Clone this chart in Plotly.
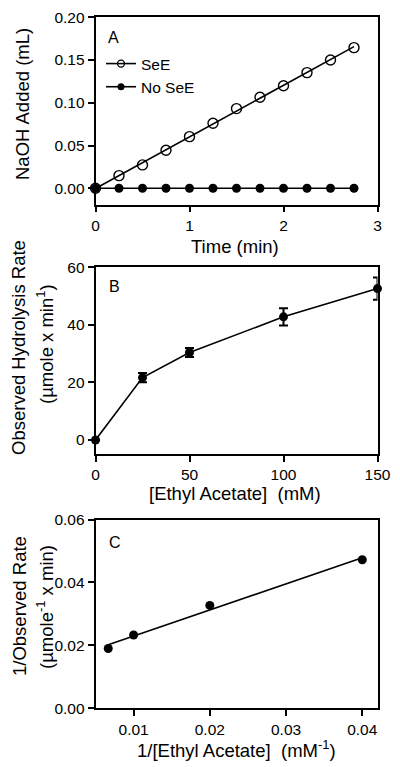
import numpy as np
import plotly.graph_objects as go

# ---------------- data ----------------
# Panel A
time_min = [0, 0.25, 0.5, 0.75, 1.0, 1.25, 1.5, 1.75, 2.0, 2.25, 2.5, 2.75]
naoh_see = [0.0, 0.0148, 0.0273, 0.0444, 0.0604, 0.0760, 0.0932, 0.1064, 0.1200, 0.1353, 0.1500, 0.1645]
naoh_no_see = [0.0] * 12
# Panel B
ethyl_acetate_mM = [0, 25, 50, 100, 150]
rate_obs = [0.0, 21.7, 30.4, 42.8, 52.6]
rate_err = [0.0, 1.6, 1.6, 3.0, 3.9]
# Panel C
inv_ethyl = [0.00667, 0.01, 0.02, 0.04]
inv_rate = [0.0190, 0.0233, 0.0327, 0.0472]

# tick labels
a_xticks = [0, 1, 2, 3]
a_yticks = [0.00, 0.05, 0.10, 0.15, 0.20]
b_xticks = [0, 50, 100, 150]
b_yticks = [0, 20, 40, 60]
c_xticks = [0.01, 0.02, 0.03, 0.04]
c_yticks = [0.00, 0.02, 0.04, 0.06]

# ---------------- helpers ----------------
# the page body has an 8px default margin, so the figure is sized to fill the rest
OFF = 8
W, H = 400 - OFF, 767 - OFF
FONT = "Liberation Sans, Arial, Helvetica, sans-serif"


def px_x(p):
    return (p - OFF) / W


def px_y(p):
    return 1 - (p - OFF) / H


def axis(rng, ticks, fmt=None, domain=None, anchor=None):
    d = dict(range=rng, tickvals=ticks, showline=True, linecolor="black", linewidth=1.6,
             mirror=True, ticks="outside", ticklen=6, tickwidth=1.6, tickcolor="black",
             showgrid=False, zeroline=False, tickfont=dict(size=15.5, color="black", family=FONT),
             domain=domain, anchor=anchor, fixedrange=True, automargin=False)
    if fmt:
        d["tickformat"] = fmt
    return d


fig = go.Figure()

# fits
pa = np.polyfit(time_min, naoh_see, 1)
fit_a_x = [time_min[0], time_min[-1]]
fit_a_y = list(np.polyval(pa, fit_a_x))
pc = np.polyfit(inv_ethyl, inv_rate, 1)
fit_c_x = [min(inv_ethyl), max(inv_ethyl)]
fit_c_y = list(np.polyval(pc, fit_c_x))

# Panel A
fig.add_trace(go.Scatter(x=fit_a_x, y=fit_a_y, mode="lines", line=dict(color="black", width=1.6),
                         showlegend=False, xaxis="x", yaxis="y", hoverinfo="skip"))
fig.add_trace(go.Scatter(x=time_min, y=naoh_see, mode="markers",
                         marker=dict(symbol="circle-open", size=10, color="black", line=dict(width=1.4)),
                         showlegend=False, xaxis="x", yaxis="y", cliponaxis=False))
fig.add_trace(go.Scatter(x=time_min, y=naoh_no_see, mode="lines+markers",
                         line=dict(color="black", width=1.6),
                         marker=dict(symbol="circle", size=9, color="black"),
                         showlegend=False, xaxis="x", yaxis="y", cliponaxis=False))
# legend entries
fig.add_trace(go.Scatter(x=[None], y=[None], mode="lines+markers", name="SeE",
                         line=dict(color="black", width=1.6),
                         marker=dict(symbol="circle-open", size=7, color="black", line=dict(width=1.3)),
                         xaxis="x", yaxis="y"))
fig.add_trace(go.Scatter(x=[None], y=[None], mode="lines+markers", name="No SeE",
                         line=dict(color="black", width=1.6),
                         marker=dict(symbol="circle", size=7, color="black"),
                         xaxis="x", yaxis="y"))

# Panel B
fig.add_trace(go.Scatter(x=ethyl_acetate_mM, y=rate_obs, mode="lines+markers",
                         line=dict(color="black", width=1.6),
                         marker=dict(symbol="circle", size=9, color="black"),
                         error_y=dict(type="data", array=rate_err, visible=True, color="black",
                                      thickness=2, width=4.5),
                         showlegend=False, xaxis="x2", yaxis="y2", cliponaxis=False))

# Panel C
fig.add_trace(go.Scatter(x=fit_c_x, y=fit_c_y, mode="lines", line=dict(color="black", width=1.6),
                         showlegend=False, xaxis="x3", yaxis="y3", hoverinfo="skip"))
fig.add_trace(go.Scatter(x=inv_ethyl, y=inv_rate, mode="markers",
                         marker=dict(symbol="circle", size=9, color="black"),
                         showlegend=False, xaxis="x3", yaxis="y3", cliponaxis=False))

xdom = [px_x(95.5), px_x(377.5)]
fig.update_layout(
    width=W, height=H, margin=dict(l=0, r=0, t=0, b=0, pad=0, autoexpand=False),
    autosize=False,
    paper_bgcolor="white", plot_bgcolor="white",
    font=dict(family=FONT, color="black"),
    xaxis=axis([0, 3], a_xticks, domain=xdom, anchor="y"),
    yaxis=axis([-0.019, 0.2], a_yticks, fmt=".2f", domain=[px_y(204.5), px_y(17.3)], anchor="x"),
    xaxis2=axis([0, 150], b_xticks, domain=xdom, anchor="y2"),
    yaxis2=axis([-4.85, 60], b_yticks, domain=[px_y(454), px_y(267.3)], anchor="x2"),
    xaxis3=axis([0.005, 0.042], c_xticks, fmt=".2f", domain=xdom, anchor="y3"),
    yaxis3=axis([0, 0.06], c_yticks, fmt=".2f", domain=[px_y(708.3), px_y(519.5)], anchor="x3"),
    legend=dict(x=px_x(101), y=px_y(47), xanchor="left", yanchor="top",
                bgcolor="rgba(0,0,0,0)", font=dict(size=15.5, family=FONT, color="black"),
                itemwidth=30, tracegroupgap=0),
    showlegend=True,
)

ann = [
    # panel labels
    dict(text="A", x=px_x(106), y=px_y(37), xanchor="left", yanchor="middle", font=dict(size=16)),
    dict(text="B", x=px_x(107), y=px_y(286), xanchor="left", yanchor="middle", font=dict(size=16)),
    dict(text="C", x=px_x(107), y=px_y(542), xanchor="left", yanchor="middle", font=dict(size=16)),
    # x titles
    dict(text="Time (min)", x=px_x(235), y=px_y(246), xanchor="center", yanchor="middle", font=dict(size=18.5)),
    dict(text="[Ethyl Acetate]  (mM)", x=px_x(235), y=px_y(493), xanchor="center", yanchor="middle", font=dict(size=18.5)),
    dict(text="1/[Ethyl Acetate]  (mM<sup>-1</sup>)", x=px_x(237), y=px_y(749), xanchor="center", yanchor="middle", font=dict(size=18.5)),
    # y titles
    dict(text="NaOH Added (mL)", x=px_x(23), y=px_y(104), textangle=-90, xanchor="center", yanchor="middle", font=dict(size=18.5)),
    dict(text="Observed Hydrolysis Rate", x=px_x(19), y=px_y(348), textangle=-90, xanchor="center", yanchor="middle", font=dict(size=18.5)),
    dict(text="(µmole x min<sup>1</sup>)", x=px_x(45), y=px_y(344), textangle=-90, xanchor="center", yanchor="middle", font=dict(size=18.5)),
    dict(text="1/Observed Rate", x=px_x(19), y=px_y(606), textangle=-90, xanchor="center", yanchor="middle", font=dict(size=18.5)),
    dict(text="(µmole<sup>-1</sup> x min)", x=px_x(45), y=px_y(607), textangle=-90, xanchor="center", yanchor="middle", font=dict(size=18.5)),
]
for a in ann:
    a.update(xref="paper", yref="paper", showarrow=False)
    a["font"] = dict(family=FONT, color="black", **a["font"])
fig.update_layout(annotations=ann)

fig.write_html("out.html")
